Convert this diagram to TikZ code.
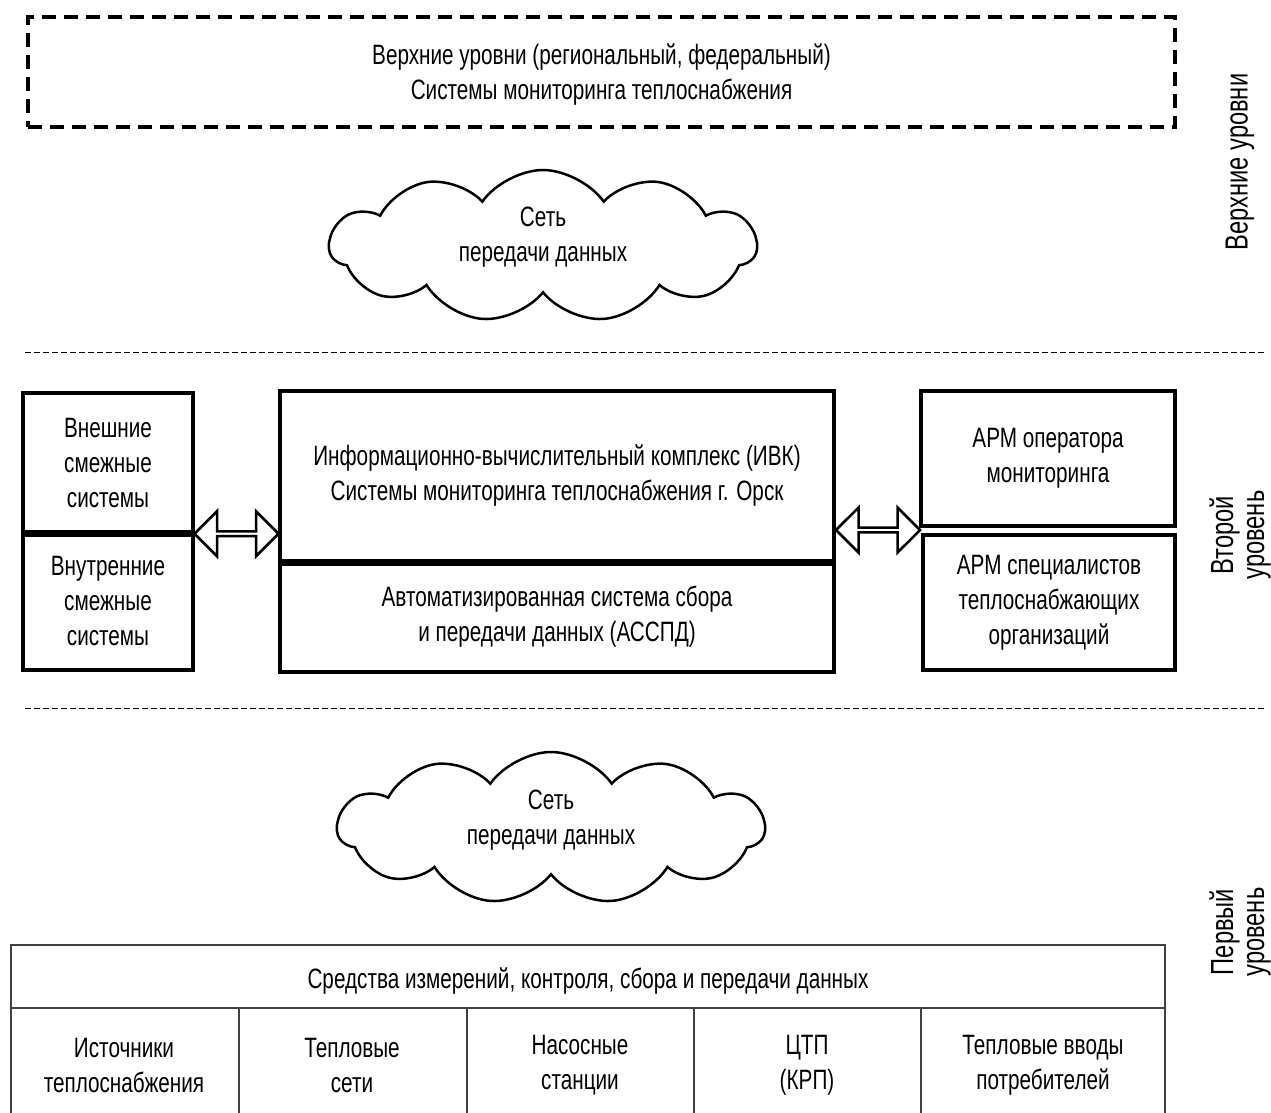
\documentclass[tikz,border=0pt]{standalone}
\usepackage{fontspec}
\setmainfont{Liberation Sans}[FakeStretch=0.74]
\usetikzlibrary{calc,shapes.symbols,shapes.arrows}

\begin{document}
\begin{tikzpicture}[x=1pt,y=-1pt,
    txt/.style={align=center, font=\fontsize{28}{35}\selectfont},
    lvl/.style={align=center, rotate=90, font=\fontsize{32}{31}\selectfont},
    box/.style={draw, line width=3.5pt, inner sep=0pt, txt},
    net/.style={cloud, cloud puffs=11, cloud puff arc=110, aspect=2.8, draw, line width=2.5pt,
        minimum width=427pt, minimum height=152pt, inner sep=0pt},
    dbl/.style={double arrow, draw, line width=2.5pt, minimum width=45pt, minimum height=84pt,
        double arrow head extend=11pt, inner sep=0pt},
    sep/.style={line width=1pt, dash pattern=on 6pt off 3pt},
    cell/.style={line width=1.5pt, draw=black!75}]
    \useasboundingbox (0,0) rectangle (1271,1113);

    % Upper levels
    \node[draw, line width=3.5pt, dash pattern=on 14pt off 8pt, minimum width=1147pt,
        minimum height=110pt] (upper) at (601.5,72) {};
    \node[txt] (uppertxt) at (601.5,75)
        {Верхние уровни (региональный, федеральный)\\Системы мониторинга теплоснабжения};
    \node[net] (net1) at (543,246) {};
    \node[txt] (net1txt) at (543,237) {Сеть\\передачи данных};
    \node[lvl] (lvl3) at (1240,162) {Верхние уровни};
    \draw[sep] (25,352) -- (1265,352);

    % Second level
    \node[box, minimum width=170pt, minimum height=139pt] (ext) at (108,462.5)
        {Внешние\\смежные\\системы};
    \node[box, minimum width=170pt, minimum height=138pt] (int) at (108,601)
        {Внутренние\\смежные\\системы};
    \draw[line width=7pt] (ext.south west) -- (ext.south east);

    \node[box, minimum width=554pt, minimum height=170pt] (ivk) at (557,476)
        {Информационно-вычислительный комплекс (ИВК)\\Системы мониторинга теплоснабжения г. Орск};
    \node[box, minimum width=554pt, minimum height=111pt] (asspd) at (557,616.5)
        {Автоматизированная система сбора\\и передачи данных (АССПД)};
    \draw[line width=6pt] (ivk.south west) -- (ivk.south east);

    \node[box, minimum width=254pt, minimum height=135pt] (arm1) at (1048,458.5)
        {АРМ оператора\\мониторинга};
    \node[box, minimum width=252pt, minimum height=135pt] (arm2) at (1049,602.5)
        {АРМ специалистов\\теплоснабжающих\\организаций};

    \node[dbl] (la) at ($(ext.south east)!0.5!(ivk.west |- ext.south)$) {};
    \node[dbl] (ra) at (878,530) {};

    \node[lvl] (lvl2) at (1240,535) {Второй\\уровень};
    \draw[sep] (25,708) -- (1265,708);

    % First level
    \node[net] (net2) at (551,828) {};
    \node[txt] (net2txt) at (551,820) {Сеть\\передачи данных};
    \node[lvl] (lvl1) at (1240,932) {Первый\\уровень};

    % Measurement table
    \node[txt] (means) at (588,981) {Средства измерений, контроля, сбора и передачи данных};
    \draw[cell] (11,1113) -- (11,945) -- (1165,945) -- (1165,1113);
    \draw[cell] (11,1008) -- (1165,1008);
    \foreach \x in {239,467,694,921}
        \draw[cell] (\x,1008) -- (\x,1113);
    \node[txt] (src) at (124,1065) {Источники\\теплоснабжения};
    \node[txt] (hnet) at (352,1065) {Тепловые\\сети};
    \node[txt] (pump) at (580,1065) {Насосные\\станции};
    \node[txt] (ctp) at (807,1065) {ЦТП\\(КРП)};
    \node[txt] (cons) at (1043,1065) {Тепловые вводы\\потребителей};
\end{tikzpicture}
\end{document}
